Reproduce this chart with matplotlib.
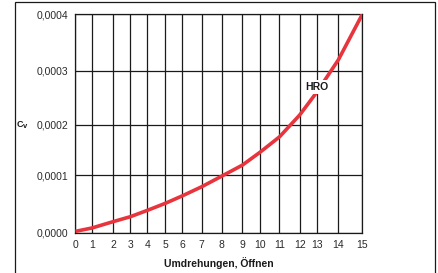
import numpy as np
import matplotlib
matplotlib.use("Agg")
import matplotlib.pyplot as plt
from matplotlib.patches import Rectangle

# ---- data ----
turns = [0, 1, 2, 3, 4, 5, 6, 7, 8, 9, 10, 11, 12, 13, 14, 15]
cv = [0.000002, 0.0000079, 0.0000189, 0.0000276, 0.0000388, 0.000051,
      0.0000638, 0.00008, 0.0000985, 0.00012, 0.0001455, 0.000176,
      0.000218, 0.00026, 0.000319, 0.0004]
x_ticks = list(range(16))
x_tick_labels = [str(t) for t in x_ticks]
y_ticks = [0.0, 0.0001, 0.0002, 0.0003, 0.0004]
y_tick_labels = ["0,0000", "0,0001", "0,0002", "0,0003", "0,0004"]
series_label = "HRO"

# ---- layout (hand-drawn grid spacing of the original) ----
W, H = 439, 273
x_grid_px = [75.5, 92, 113, 130.3, 147.5, 165.3, 182, 201.7, 221.7,
             242.3, 260, 279.5, 299.7, 316.7, 338.3, 362.5]
y_grid_px = [232.5, 175.3, 124.7, 70.7, 14]

plt.rcParams['font.family'] = ['Liberation Sans', 'DejaVu Sans']

fig = plt.figure(figsize=(W / 100, H / 100), dpi=100)
left, right = x_grid_px[0] / W, x_grid_px[-1] / W
top, bottom = 1 - y_grid_px[-1] / H, 1 - y_grid_px[0] / H
ax = fig.add_axes([left, bottom, right - left, top - bottom])

xp = np.array(x_grid_px)
xt = np.array(x_ticks, dtype=float)
yp = -np.array(y_grid_px)
yt = np.array(y_ticks)

def fx(v):
    return np.interp(v, xt, xp)
def ifx(v):
    return np.interp(v, xp, xt)
def fy(v):
    return np.interp(v, yt, yp)
def ify(v):
    return np.interp(v, yp, yt)

ax.set_xscale('function', functions=(fx, ifx))
ax.set_yscale('function', functions=(fy, ify))
ax.set_xlim(0, 15)
ax.set_ylim(0, 0.0004)

ax.set_xticks(x_ticks)
ax.set_xticklabels(x_tick_labels)
ax.set_yticks(y_ticks)
ax.set_yticklabels(y_tick_labels)
ax.xaxis.set_minor_locator(matplotlib.ticker.NullLocator())
ax.yaxis.set_minor_locator(matplotlib.ticker.NullLocator())
ax.tick_params(axis='both', length=0, labelsize=7.5, colors='#2a2a2a')
ax.tick_params(axis='x', pad=5.5)
ax.tick_params(axis='y', pad=5)

ax.grid(True, color='#1a1a1a', linewidth=0.9)
ax.set_axisbelow(True)
for s in ax.spines.values():
    s.set_color('#1a1a1a')
    s.set_linewidth(0.9)

ax.plot(turns, cv, color='#e8343c', linewidth=2.6, solid_capstyle='butt', zorder=3)

ax.text(13.0, 0.000270, series_label, fontsize=7.5, fontweight='bold',
        ha='center', va='center', color='#1a1a1a', zorder=4,
        bbox=dict(facecolor='white', edgecolor='none', pad=1.5))

ax.set_xlabel("Umdrehungen, Öffnen", fontsize=7.5, fontweight='bold',
              color='#1a1a1a', labelpad=5)

fig.text(16.5 / W, 1 - 124.5 / H, "C", fontsize=6.5, fontweight='bold',
         ha='left', va='center', color='#1a1a1a')
fig.text(23.2 / W, 1 - 127 / H, "v", fontsize=5.5, fontweight='bold',
         ha='left', va='center', color='#1a1a1a')

fig.patches.append(Rectangle((15 / W, -0.05), (435 - 15) / W, 1.05 - 2 / H,
                             transform=fig.transFigure, fill=False,
                             edgecolor='#1a1a1a', linewidth=0.9))

fig.savefig("out.png", dpi=100)
